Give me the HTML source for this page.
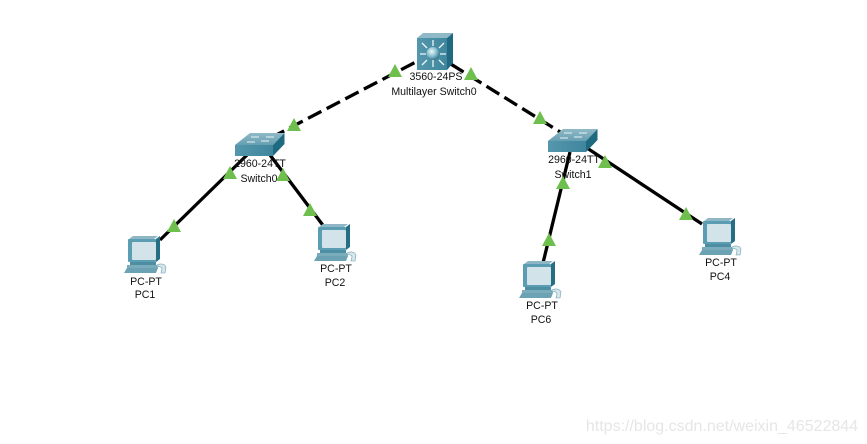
<!DOCTYPE html>
<html><head><meta charset="utf-8"><style>
html,body{margin:0;padding:0;background:#fff;width:867px;height:444px;overflow:hidden}
svg{display:block}
text{font-family:"Liberation Sans",sans-serif;font-size:10.6px;fill:#111;text-anchor:middle}
</style></head><body>
<svg width="867" height="444" viewBox="0 0 867 444" xmlns="http://www.w3.org/2000/svg">
<defs>
<linearGradient id="f" x1="0" y1="0" x2="1" y2="0"><stop offset="0" stop-color="#5597ac"/><stop offset="1" stop-color="#3f869d"/></linearGradient>
<linearGradient id="top" x1="0" y1="0" x2="0" y2="1"><stop offset="0" stop-color="#8fb9c6"/><stop offset="1" stop-color="#669fb2"/></linearGradient>
<radialGradient id="ball" cx=".4" cy=".35" r=".7"><stop offset="0" stop-color="#eef8fa"/><stop offset=".55" stop-color="#84bccb"/><stop offset="1" stop-color="#2a6f85"/></radialGradient>
<g id="tri"><polygon points="0,-7 7,6 -7,6" fill="#6fbf4f"/></g>
<g id="sw">
<polygon points="0,12 15,0 49.500,0 38,12" fill="url(#top)"/>
<polygon points="38,12 49.500,0 49.500,11 38,23" fill="#1f6a80"/>
<rect x="0" y="12" width="38" height="11" fill="url(#f)"/>
<g stroke="#e8f2f5" stroke-width="1" fill="none">
<path d="M16,4h8M31,4h8M12,9h8M26,8h8"/>
</g>
</g>
<g id="pc">
<polygon points="5,1 30,1 34,-2 9,-2" fill="#8fb6c4"/>
<polygon points="32,1 36,-2 36,21 32,24" fill="#256f85"/>
<rect x="4" y="1" width="28" height="23" rx="1" fill="#5b9db2"/>
<rect x="8" y="4" width="24" height="18" rx="1" fill="#d3e3ea"/>
<rect x="6" y="24" width="26" height="3" fill="#4d8ea3"/>
<rect x="3" y="27" width="31" height="3" fill="#7aacbc"/>
<polygon points="3,30 34,30 32,35 0,35" fill="#6ba3b4"/>
<path d="M33,27c4-2 8-1 9,2l-1,6h-4l1-4c0-2-3-3-5-2z" fill="#d5e5ea" stroke="#6ba3b4" stroke-width=".6"/>
</g>
</defs>

<g stroke="#000" stroke-width="3.3" fill="none">
<line x1="433" y1="53" x2="259" y2="144" stroke-dasharray="15 6"/>
<line x1="433" y1="53" x2="573" y2="140" stroke-dasharray="15 6"/>
<line x1="247" y1="155" x2="160" y2="240"/>
<line x1="270" y1="155" x2="325" y2="228"/>
<line x1="570" y1="152" x2="543" y2="263"/>
<line x1="587" y1="148" x2="702" y2="224"/>
</g>

<!-- multilayer switch -->
<polygon points="417,38 423,33 453,33 447,38" fill="#8fb9c6"/>
<polygon points="447,38 453,33 453,63 447,70" fill="#1f6a80"/>
<rect x="417" y="38" width="30" height="32" fill="url(#f)"/>
<g stroke="#eef6f8" stroke-width="1.3">
<path d="M433,46V40M433,60V67M426,54H420M440,54H446M427,48L422,43M439,48L444,43M427,60L422,65M439,60L444,65"/>
</g>
<circle cx="433" cy="53.500" r="6.500" fill="url(#ball)"/>

<use href="#sw" x="235" y="133"/>
<use href="#sw" x="548" y="129"/>

<use href="#pc" x="124" y="238"/>
<use href="#pc" x="314" y="226"/>
<use href="#pc" x="519" y="263"/>
<use href="#pc" x="699" y="220"/>

<text x="436" y="80">3560-24PS</text>
<text x="434" y="95">Multilayer Switch0</text>
<text x="260" y="167">2960-24TT</text>
<text x="259" y="182">Switch0</text>
<text x="574" y="163">2960-24TT</text>
<text x="573" y="178">Switch1</text>
<text x="146" y="285">PC-PT</text>
<text x="145" y="298">PC1</text>
<text x="336" y="272">PC-PT</text>
<text x="335" y="286">PC2</text>
<text x="542" y="309">PC-PT</text>
<text x="541" y="323">PC6</text>
<text x="721" y="266">PC-PT</text>
<text x="720" y="280">PC4</text>

<use href="#tri" x="395" y="71"/>
<use href="#tri" x="471" y="74"/>
<use href="#tri" x="294" y="125"/>
<use href="#tri" x="540" y="118"/>
<use href="#tri" x="230" y="173"/>
<use href="#tri" x="283" y="175"/>
<use href="#tri" x="174" y="226"/>
<use href="#tri" x="310" y="210"/>
<use href="#tri" x="563" y="183"/>
<use href="#tri" x="605" y="162"/>
<use href="#tri" x="549" y="240"/>
<use href="#tri" x="686" y="214"/>

<text x="722" y="431" style="font-size:16px;fill:#e6e6e6">https://blog.csdn.net/weixin_46522844</text>
</svg>
</body></html>
